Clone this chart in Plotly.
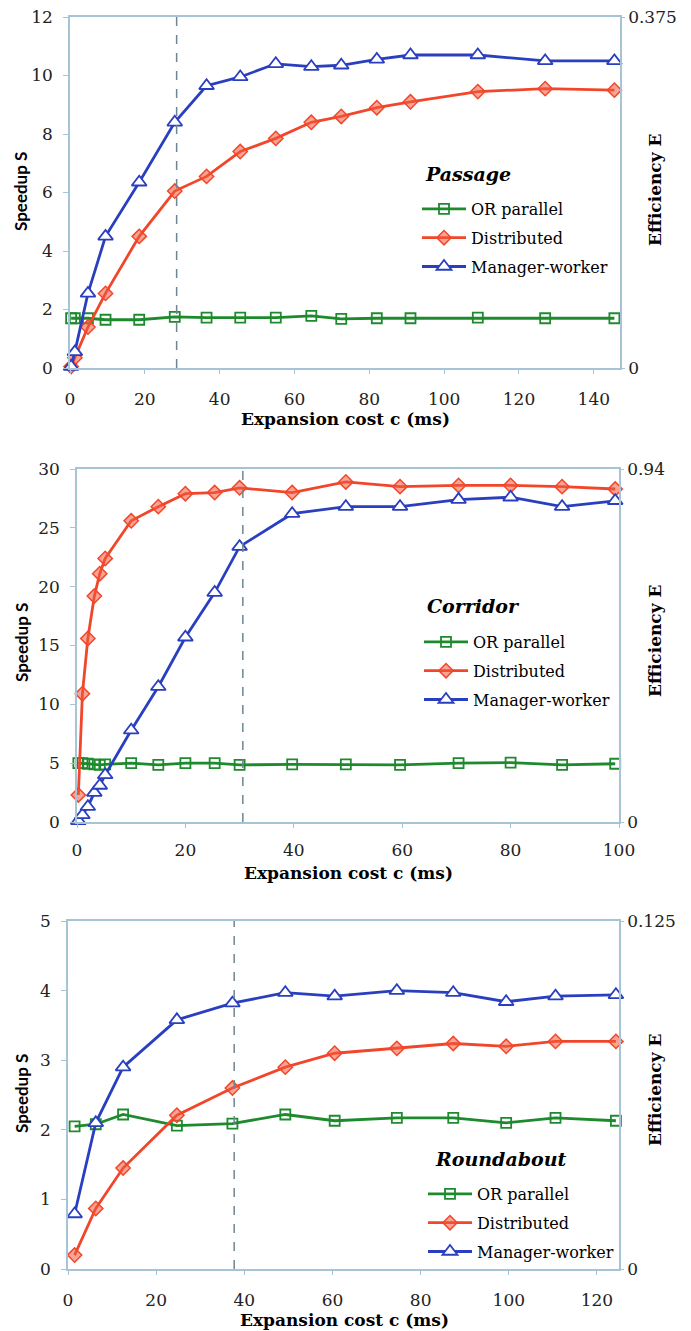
import plotly.graph_objects as go

# ---------------- data ----------------
series_names = ["OR parallel", "Distributed", "Manager-worker"]
panel_titles = ["Passage", "Corridor", "Roundabout"]

pas_x = [0.3, 1.3, 4.8, 9.5, 18.5, 28, 36.5, 45.5, 55, 64.5, 72.5, 82, 91, 109, 127, 145.5]
pas_or = [1.7, 1.7, 1.7, 1.65, 1.65, 1.75, 1.72, 1.72, 1.72, 1.78, 1.68, 1.7, 1.7, 1.72, 1.7, 1.7]
pas_dist = [0.05, 0.35, 1.4, 2.55, 4.5, 6.05, 6.55, 7.4, 7.85, 8.4, 8.6, 8.9, 9.1, 9.45, 9.55, 9.5]
pas_mw = [0.05, 0.55, 2.55, 4.5, 6.35, 8.4, 9.65, 9.95, 10.4, 10.3, 10.35, 10.55, 10.7, 10.7, 10.5, 10.5]

cor_x = [0.25, 1, 2, 3.2, 4.2, 5.2, 10, 15, 20, 25.4, 30, 39.7, 49.6, 59.6, 70.4, 80, 89.5, 99.3]
cor_or = [5.0, 5.0, 4.95, 4.9, 4.85, 4.9, 5.0, 4.85, 5.0, 5.0, 4.85, 4.9, 4.9, 4.85, 5.0, 5.05, 4.85, 4.95]
cor_dist = [2.3, 10.9, 15.6, 19.2, 21.1, 22.4, 25.6, 26.8, 27.9, 28.0, 28.4, 28.0, 28.9, 28.5, 28.6, 28.6, 28.5, 28.3]
cor_mw = [0.1, 0.6, 1.3, 2.5, 3.1, 4.0, 7.8, 11.5, 15.7, 19.5, 23.4, 26.2, 26.8, 26.8, 27.4, 27.6, 26.8, 27.3]

rnd_x = [1.5, 6.3, 12.5, 24.7, 37.3, 49.3, 60.5, 74.6, 87.4, 99.4, 110.6, 124.3]
rnd_or = [2.05, 2.08, 2.22, 2.06, 2.09, 2.22, 2.13, 2.17, 2.17, 2.1, 2.17, 2.13]
rnd_dist = [0.2, 0.87, 1.45, 2.21, 2.6, 2.9, 3.1, 3.17, 3.24, 3.2, 3.27, 3.27]
rnd_mw = [0.79, 2.1, 2.9, 3.58, 3.82, 3.97, 3.92, 4.0, 3.97, 3.84, 3.92, 3.94]

x_ranges = [[0, 147], [0, 100], [0, 125]]
speedup_ranges = [[0, 12], [0, 30], [0, 5]]
speedup_dticks = [2, 5, 1]
eff_tops = [0.375, 0.9375, 0.125]
eff_labels = [["0", "0.375"], ["0", "0.94"], ["0", "0.125"]]
x_dticks = [20, 20, 20]
dash_x = [28.5, 30.6, 37.7]

panels = [
    (pas_x, [pas_or, pas_dist, pas_mw]),
    (cor_x, [cor_or, cor_dist, cor_mw]),
    (rnd_x, [rnd_or, rnd_dist, rnd_mw]),
]

# ---------------- style ----------------
OFF = 8                      # page body margin of the browser
W, H = 691 - OFF, 1331 - OFF


def px(x):
    return (x - OFF) / W


def py(y):
    return (H - (y - OFF)) / H


plot_px = [  # left, right, top, bottom in screen pixels
    (70, 620, 17, 368),
    (77, 619, 469, 822),
    (68, 619, 921, 1269),
]
legend_pos = [(417, 192), (419, 625), (423, 1177)]
title_pos = [(423, 174), (425, 606), (433, 1159)]
xtitle_pos = [(345, 419), (348, 873), (344, 1320)]
xtick_standoff = [11, 8, 11]
speed_title_y = [192, 643, 1094]
eff_title_y = [190, 641, 1090]

colors = ["#1e8a2e", "#f2462a", "#2a3fbf"]
SERIF = "DejaVu Serif"
SANS = "Lato"
AX = "#a7c3d6"
TXT = "#222222"

fig = go.Figure()

for i, (xs, ys_list) in enumerate(panels):
    n = i + 1
    xa = "x" if n == 1 else f"x{n}"
    ya = "y" if n == 1 else f"y{n}"
    leg = "legend" if n == 1 else f"legend{n}"
    for j, (name, ys) in enumerate(zip(series_names, ys_list)):
        if j == 0:
            marker = dict(symbol="square-open", size=10, color=colors[0],
                          line=dict(width=1.8, color="#4caf2a"))
        elif j == 1:
            marker = dict(symbol="diamond", size=11, color="rgba(242,90,60,0.55)",
                          line=dict(width=1.5, color=colors[1]))
        else:
            marker = dict(symbol="triangle-up", size=13, color="white",
                          line=dict(width=1.8, color=colors[2]))
        fig.add_trace(go.Scatter(
            x=xs, y=ys, name=name, mode="lines+markers",
            line=dict(color=colors[j], width=2.8),
            marker=marker, xaxis=xa, yaxis=ya, legend=leg,
            legendgroup=f"p{n}s{j}", cliponaxis=False,
        ))
    fig.add_trace(go.Scatter(x=[None], y=[None], xaxis=xa, yaxis=f"y{n+3}",
                             showlegend=False, hoverinfo="skip"))

layout = dict(
    template="none",
    width=W, height=H, margin=dict(l=0, r=0, t=0, b=0, autoexpand=False),
    paper_bgcolor="white", plot_bgcolor="white", showlegend=True,
    font=dict(family=SERIF, color=TXT),
)
shapes = []
annotations = []
for i in range(3):
    n = i + 1
    l, r, t, b = plot_px[i]
    xd = [px(l), px(r)]
    yd = [py(b), py(t)]
    xk = "xaxis" if n == 1 else f"xaxis{n}"
    yk = "yaxis" if n == 1 else f"yaxis{n}"
    xa = "x" if n == 1 else f"x{n}"
    ya = "y" if n == 1 else f"y{n}"
    layout[xk] = dict(
        domain=xd, anchor=ya, range=x_ranges[i], dtick=x_dticks[i], tick0=0,
        showline=True, linecolor=AX, linewidth=1.5, mirror=True, automargin=False,
        ticks="outside", ticklen=4, tickcolor=AX, showgrid=False, zeroline=False,
        tickfont=dict(family=SERIF, size=17, color=TXT),
        ticklabelstandoff=xtick_standoff[i], ticklabeloverflow="allow",
    )
    layout[yk] = dict(
        domain=yd, anchor=xa, range=speedup_ranges[i], dtick=speedup_dticks[i], tick0=0,
        showline=True, linecolor=AX, linewidth=1.5, automargin=False,
        ticks="outside", ticklen=5, tickcolor=AX, showgrid=False, zeroline=False,
        tickfont=dict(family=SERIF, size=17, color=TXT), ticklabelstandoff=7,
        ticklabeloverflow="allow",
    )
    layout[f"yaxis{n+3}"] = dict(
        overlaying=ya, anchor=xa, side="right", range=[0, eff_tops[i]],
        tickvals=[0, eff_tops[i]], ticktext=eff_labels[i], automargin=False,
        showline=True, linecolor=AX, linewidth=1.5,
        ticks="outside", ticklen=3, tickcolor=AX, showgrid=False, zeroline=False,
        tickfont=dict(family=SERIF, size=17, color=TXT), ticklabeloverflow="allow",
    )
    lx, ly = legend_pos[i]
    layout["legend" if n == 1 else f"legend{n}"] = dict(
        x=px(lx), y=py(ly), xanchor="left", yanchor="top",
        bgcolor="rgba(255,255,255,0)", borderwidth=0,
        traceorder="grouped", tracegroupgap=5, itemwidth=44,
        font=dict(family=SERIF, size=16, color="black"),
    )
    shapes.append(dict(type="line", xref=xa, yref=f"{ya} domain",
                       x0=dash_x[i], x1=dash_x[i], y0=0, y1=1,
                       line=dict(color="#6f8592", width=1.5, dash="dash")))
    tx, ty = title_pos[i]
    annotations.append(dict(text=f"<b><i>{panel_titles[i]}</i></b>", xref="paper", yref="paper",
                            x=px(tx), y=py(ty), xanchor="left", yanchor="middle",
                            showarrow=False, font=dict(family=SERIF, size=19, color="black")))
    xx, xy = xtitle_pos[i]
    annotations.append(dict(text="<b>Expansion cost c (ms)</b>", xref="paper", yref="paper",
                            x=px(xx), y=py(xy), xanchor="center", yanchor="middle",
                            showarrow=False, font=dict(family=SERIF, size=17, color="black")))
    annotations.append(dict(text="<b>Speedup S</b>", xref="paper", yref="paper",
                            x=px(21), y=py(speed_title_y[i]), xanchor="center",
                            yanchor="middle", textangle=-90, showarrow=False,
                            font=dict(family=SANS, size=17, color="black")))
    annotations.append(dict(text="<b>Efficiency E</b>", xref="paper", yref="paper",
                            x=px(655), y=py(eff_title_y[i]), xanchor="center",
                            yanchor="middle", textangle=-90, showarrow=False,
                            font=dict(family=SERIF, size=17, color="black")))
layout["shapes"] = shapes
layout["annotations"] = annotations
fig.update_layout(**layout)

fig.write_html("out.html")
